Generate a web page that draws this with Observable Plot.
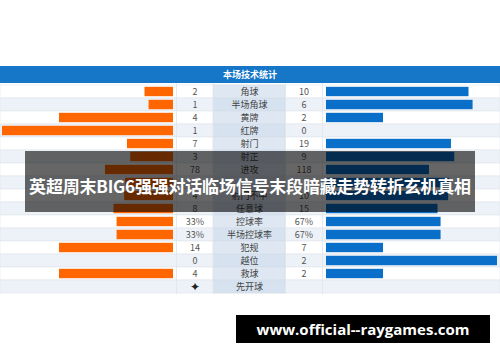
<!DOCTYPE html>
<html>
<head>
<meta charset="utf-8">
<script src="https://cdn.jsdelivr.net/npm/d3@7"></script>
<script src="https://cdn.jsdelivr.net/npm/@observablehq/plot@0.6"></script>
<style>
  html, body { margin: 0; padding: 0; background: #fff; }
  #wrap { position: relative; width: 500px; height: 362px; overflow: hidden; background: #fff; font-family: "Noto Sans CJK SC", "Noto Sans", sans-serif; }
  #head { position: absolute; left: 0; top: 66px; width: 500px; height: 17px; background: #1677c9; color: #fff; font-weight: bold; font-size: 9px; line-height: 17px; text-align: center; }
  #chart { position: absolute; left: 0; top: 83px; }
  #banner { position: absolute; left: 25px; top: 151px; width: 450px; height: 61px; background: rgba(0,0,0,0.6); }
  #btext { position: absolute; left: 0; top: 173px; width: 500px; text-align: center; color: #fff; font-weight: bold; font-size: 17px; line-height: 26px; white-space: nowrap; letter-spacing: -0.2px; }
  #wm { position: absolute; left: 236px; top: 315px; width: 254px; height: 28px; background: #000; color: #fff; font-family: "Open Sans", "DejaVu Sans", sans-serif; font-weight: bold; font-size: 15px; line-height: 28px; text-align: center; white-space: nowrap; }
</style>
</head>
<body>
<div id="wrap">
  <div id="head"></div>
  <div id="chart"></div>
  <div id="banner"></div>
  <div id="btext"></div>
  <div id="wm"></div>
</div>
<script>
const tableTitle = "本场技术统计";
const bannerTitle = "英超周末BIG6强强对话临场信号末段暗藏走势转折玄机真相";
const watermark = "www.official--raygames.com";

const labels = ["角球","半场角球","黄牌","红牌","射门","射正","进攻","危险进攻","射门不中","任意球","控球率","半场控球率","犯规","越位","救球","先开球"];
const homeValues = [2, 1, 4, 1, 7, 3, 78, 35, 4, 8, 33, 33, 14, 0, 4, 0];
const awayValues = [10, 6, 2, 0, 19, 9, 118, 90, 10, 15, 67, 67, 7, 2, 2, 0];
const homeText = ["2","1","4","1","7","3","78","35","4","8","33%","33%","14","0","4","✦"];
const awayText = ["10","6","2","0","19","9","118","90","10","15","67%","67%","7","2","2",""];
// row whose texts are fully covered by the banner title in the reference
const coveredRow = "危险进攻";

document.getElementById("head").textContent = tableTitle;
document.getElementById("btext").textContent = bannerTitle;
document.getElementById("wm").textContent = watermark;

// layout (pixels)
const W = 500, L0 = 173, R0 = 326, BAR = 171;
const u = px => (px - L0) / BAR; // pixel -> x-scale unit
const rightStart = u(R0);

const rows = labels.map((label, i) => {
  const h = homeValues[i], a = awayValues[i], t = h + a;
  return {
    label, i,
    hs: t ? h / t : 0,
    as: t ? a / t : 0,
    ht: homeText[i], at: awayText[i]
  };
});
rows.forEach(d => { d.ax1 = rightStart; d.ax2 = rightStart + d.as; d.hx1 = -d.hs; d.hx2 = 0; });
const textRows = rows.filter(d => d.label !== coveredRow);

const rowH = 13.2;
const plotH = Math.round(rowH * labels.length);

const chart = Plot.plot({
  width: W,
  height: plotH + 1,
  marginLeft: 0, marginRight: 0, marginTop: 0, marginBottom: 1,
  style: { fontFamily: "'Noto Sans CJK SC', 'Noto Sans', sans-serif", fontSize: "9px", background: "transparent" },
  x: { domain: [u(0), u(W)], axis: null },
  y: { type: "band", domain: labels, padding: 0, axis: null },
  marks: [
    // row stripes
    Plot.barX(rows, { x1: u(0), x2: u(W), y: "label", fill: d => d.i % 2 ? "#edf2f8" : "#ffffff", stroke: "#dfe5ec", strokeWidth: 0.6 }),
    // label column
    Plot.barX(rows, { x1: u(213), x2: u(285), y: "label", fill: d => d.i % 2 ? "#d6e2ef" : "#dfe8f2", stroke: "#d5dde6", strokeWidth: 0.6 }),
    Plot.ruleX([u(176), u(213), u(285), u(322)], { stroke: "#dfe5ec", strokeWidth: 0.8 }),
    // bars
    Plot.barX(rows.filter(d => d.hs > 0), { x1: "hx1", x2: "hx2", y: "label", fill: "#ff6600", insetTop: 1.8, insetBottom: 1.8 }),
    Plot.barX(rows.filter(d => d.as > 0), { x1: "ax1", x2: "ax2", y: "label", fill: "#0a6fc8", insetTop: 1.8, insetBottom: 1.8 }),
    // texts
    Plot.text(textRows, { x: u(194.5), y: "label", text: "ht", fill: d => d.ht === "✦" ? "#222" : "#555", fontSize: d => d.ht === "✦" ? 12 : 9 }),
    Plot.text(textRows, { x: u(249), y: "label", text: "label", fill: "#444" }),
    Plot.text(textRows, { x: u(303.5), y: "label", text: "at", fill: "#555" })
  ]
});
document.getElementById("chart").appendChild(chart);
</script>
</body>
</html>
